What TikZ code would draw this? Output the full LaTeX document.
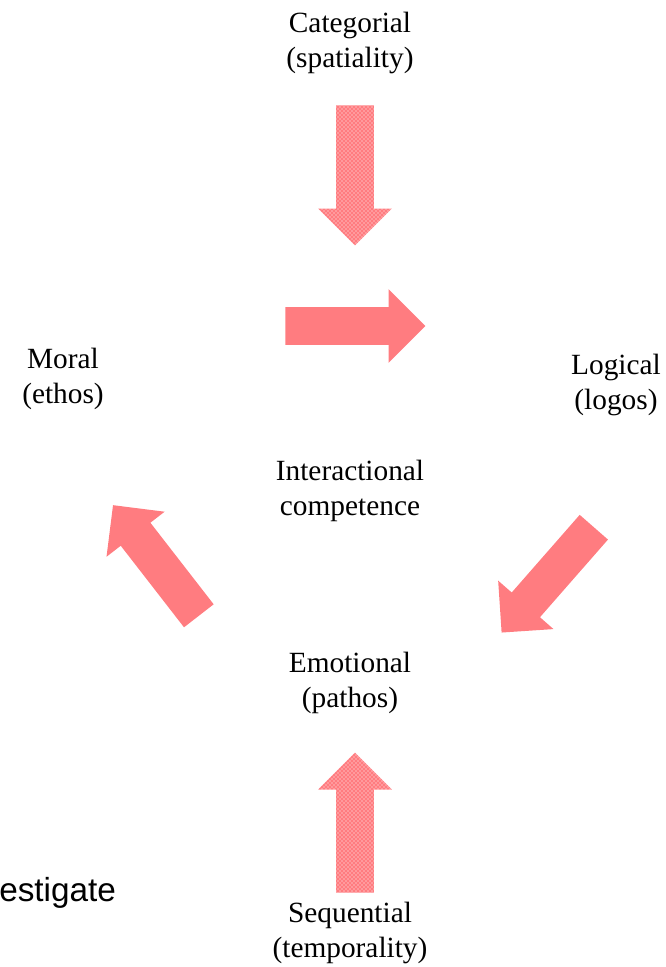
\documentclass[tikz,border=0pt]{standalone}
\usepackage{fontspec}
\setmainfont{Liberation Serif}
\newfontfamily\slidefont{Liberation Sans}
\usetikzlibrary{positioning,shapes.arrows,patterns}
\definecolor{arrowpink}{RGB}{255,124,128}

\begin{document}
\begin{tikzpicture}[x=0.75pt, y=-0.75pt, node distance=144pt]
    \tikzstyle{concept} = [align=center, inner sep=0pt, font=\fontsize{22}{26}\selectfont]
    \tikzstyle{blockarrow} = [single arrow, draw=none, anchor=tail, inner xsep=0pt, inner ysep=13.875pt, minimum height=105pt, single arrow head extend=13.5pt, single arrow tip angle=90]
    \tikzstyle{cyclearrow} = [blockarrow, fill=arrowpink]
    \tikzstyle{dimarrow} = [blockarrow, preaction={fill=arrowpink}, pattern=crosshatch dots, pattern color=white]

    \useasboundingbox (0,0) rectangle (666,967);

    % Competence and its dimensions
    \node [concept] (inter) at (350,491) {Interactional\\competence};
    \node [concept, below of=inter] (emo) {Emotional\\(pathos)};
    \node [concept, below of=emo, yshift=-43.5pt] (seq) {Sequential\\(temporality)};
    \node [concept] (cat) at (350,43) {Categorial\\(spatiality)};
    \node [concept] (moral) at (63,379) {Moral\\(ethos)};
    \node [concept] (logical) at (616,385) {Logical\\(logos)};

    % Dimension arrows
    \node [dimarrow, rotate=-90] (catarrow) at (355,105) {};
    \node [dimarrow, rotate=90] (seqarrow) at (355,893) {};

    % Cycle arrows
    \node [cyclearrow] (toparrow) at (285,326) {};
    \node [cyclearrow, rotate=228.8] (rightarrow) at (594,527) {};
    \node [cyclearrow, rotate=127.8] (leftarrow) at (199,616) {};

    % Slide text behind the figure
    \node [anchor=west, inner sep=0pt, font=\slidefont\fontsize{25}{30}\selectfont] (slidetext) at (-1,893) {estigate};
\end{tikzpicture}
\end{document}
